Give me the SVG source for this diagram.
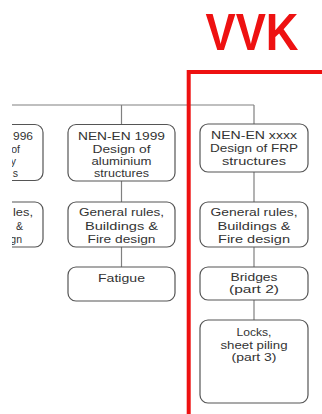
<svg xmlns="http://www.w3.org/2000/svg" width="322" height="414" viewBox="0 0 322 414">
<defs>
<style>
.box{fill:#fff;stroke:#555;stroke-width:1.2}
.t{font-family:"Liberation Sans",Arial,sans-serif;font-size:10.5px;fill:#333;text-anchor:middle}
.e{font-family:"Liberation Sans",Arial,sans-serif;font-size:10.5px;fill:#333;text-anchor:end}
.c{stroke:#808080;stroke-width:1.2;fill:none}
</style>
<clipPath id="crop"><rect x="12" y="0" width="310" height="414"/></clipPath>
</defs>
<rect width="322" height="414" fill="#fff"/>
<text x="252" y="50" text-anchor="middle" font-family="Liberation Sans,Arial,sans-serif" font-weight="bold" font-size="52" fill="#ee1111" textLength="93" lengthAdjust="spacingAndGlyphs">VVK</text>
<g id="connectors">
<path class="c" d="M12 105H254M121.5 105V125M254 105V124M121.5 181V202M121.5 247V267M254 172V202M254 247V267M254 300V320"/>
</g>
<g id="node-masonry" clip-path="url(#crop)">
<rect class="box" x="-65" y="124.5" width="108" height="56" rx="8"/>
<text class="e" x="33" y="140" textLength="20" lengthAdjust="spacingAndGlyphs">996</text>
<text class="e" x="20" y="152.5">of</text>
<text class="e" x="16" y="164.5">y</text>
<text class="e" x="18" y="176.5">s</text>
</g>
<g id="node-masonry-general" clip-path="url(#crop)">
<rect class="box" x="-65" y="202" width="108" height="45" rx="8"/>
<text class="e" x="33" y="216" textLength="20" lengthAdjust="spacingAndGlyphs">les,</text>
<text class="e" x="23" y="229.5">&amp;</text>
<text class="e" x="22" y="243">gn</text>
</g>
<g id="node-aluminium">
<rect class="box" x="68" y="124.5" width="107" height="56.5" rx="8"/>
<text class="t" x="121.5" y="140" textLength="87" lengthAdjust="spacingAndGlyphs">NEN-EN 1999</text>
<text class="t" x="121.5" y="152.5" textLength="58" lengthAdjust="spacingAndGlyphs">Design of</text>
<text class="t" x="121.5" y="164.5" textLength="60" lengthAdjust="spacingAndGlyphs">aluminium</text>
<text class="t" x="121.5" y="176.5" textLength="55" lengthAdjust="spacingAndGlyphs">structures</text>
</g>
<g id="node-aluminium-general">
<rect class="box" x="68" y="202" width="107" height="45" rx="8"/>
<text class="t" x="121.5" y="216" textLength="85" lengthAdjust="spacingAndGlyphs">General rules,</text>
<text class="t" x="121.5" y="229.5" textLength="73" lengthAdjust="spacingAndGlyphs">Buildings &amp;</text>
<text class="t" x="121.5" y="243" textLength="68" lengthAdjust="spacingAndGlyphs">Fire design</text>
</g>
<g id="node-fatigue">
<rect class="box" x="68" y="267" width="107" height="34" rx="8"/>
<text class="t" x="121.5" y="281.5" textLength="47" lengthAdjust="spacingAndGlyphs">Fatigue</text>
</g>
<g id="node-frp">
<rect class="box" x="200" y="124" width="108" height="48" rx="8"/>
<text class="t" x="254" y="139" textLength="86" lengthAdjust="spacingAndGlyphs">NEN-EN xxxx</text>
<text class="t" x="254" y="152" textLength="88" lengthAdjust="spacingAndGlyphs">Design of FRP</text>
<text class="t" x="254" y="164.5" textLength="64" lengthAdjust="spacingAndGlyphs">structures</text>
</g>
<g id="node-frp-general">
<rect class="box" x="200" y="202" width="108" height="45" rx="8"/>
<text class="t" x="254" y="216" textLength="87" lengthAdjust="spacingAndGlyphs">General rules,</text>
<text class="t" x="254" y="229.5" textLength="73" lengthAdjust="spacingAndGlyphs">Buildings &amp;</text>
<text class="t" x="254" y="243" textLength="72" lengthAdjust="spacingAndGlyphs">Fire design</text>
</g>
<g id="node-bridges">
<rect class="box" x="200" y="267" width="108" height="33" rx="8"/>
<text class="t" x="254" y="280.5" textLength="47" lengthAdjust="spacingAndGlyphs">Bridges</text>
<text class="t" x="254" y="292.5" textLength="50" lengthAdjust="spacingAndGlyphs">(part 2)</text>
</g>
<g id="node-locks">
<rect class="box" x="200" y="320" width="108" height="83" rx="8"/>
<text class="t" x="254" y="336" textLength="35" lengthAdjust="spacingAndGlyphs">Locks,</text>
<text class="t" x="254" y="348.5" textLength="67" lengthAdjust="spacingAndGlyphs">sheet piling</text>
<text class="t" x="254" y="361" textLength="45" lengthAdjust="spacingAndGlyphs">(part 3)</text>
</g>
<path id="vvk-frame" d="M188.7 414V72H322" fill="none" stroke="#ee1111" stroke-width="4"/>
</svg>
